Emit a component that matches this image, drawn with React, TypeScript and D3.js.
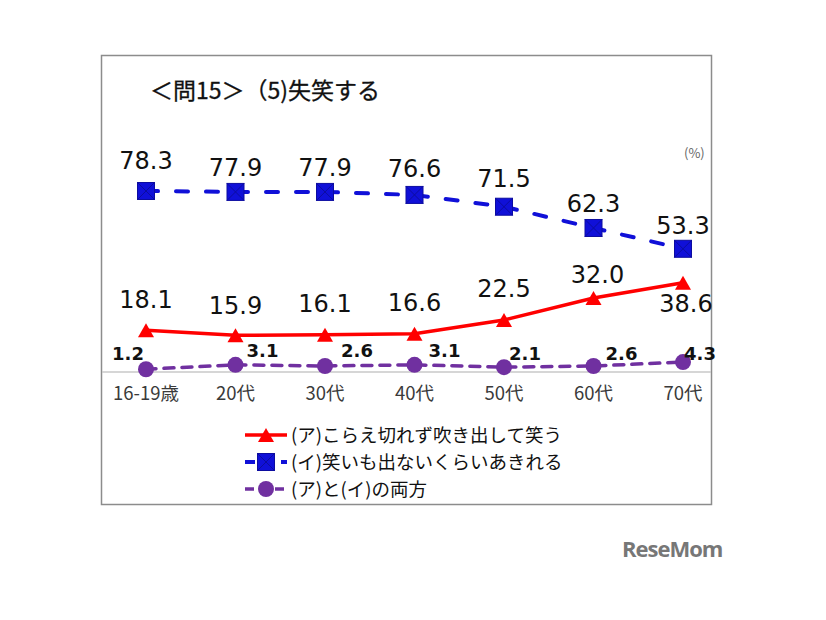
import React from "react";
import * as d3 from "d3";

const categories = ["16-19歳", "20代", "30代", "40代", "50代", "60代", "70代"];
const seriesA = [18.1, 15.9, 16.1, 16.6, 22.5, 32.0, 38.6];
const seriesI = [78.3, 77.9, 77.9, 76.6, 71.5, 62.3, 53.3];
const seriesBoth = [1.2, 3.1, 2.6, 3.1, 2.1, 2.6, 4.3];
const legendLabels = [
  "(ア)こらえ切れず吹き出して笑う",
  "(イ)笑いも出ないくらいあきれる",
  "(ア)と(イ)の両方",
];

const font = "'Noto Sans CJK JP', 'Noto Sans', sans-serif";
const numFont = "'DejaVu Sans', Verdana, sans-serif";

export default function App() {
  const x = d3.scalePoint<string>().domain(categories).range([146, 683]);
  const y = d3.scaleLinear().domain([0, 78.3]).range([372, 191]);

  const mk = (vals: number[]) =>
    d3.line<number>().x((_, i) => x(categories[i])!).y((v) => y(v))(vals)!;

  const tri = "M0,-7L8,7L-8,7Z";

  const square = (cx: number, cy: number, key: string | number) => (
    <g key={key}>
      <rect x={cx - 8.5} y={cy - 8.5} width={17} height={17} fill="#1010d8" stroke="#0c0ca0" strokeWidth={1} />
      <path d={`M${cx - 8.5},${cy - 8.5}L${cx + 8.5},${cy + 8.5}M${cx + 8.5},${cy - 8.5}L${cx - 8.5},${cy + 8.5}`} stroke="#0c0ca0" strokeWidth={1} />
    </g>
  );

  // label offsets (dx, baseline dy) relative to point
  const blueOff = [[0, -22], [0, -16], [0, -16], [0, -18], [0, -20], [0, -16], [0, -15]];
  const redOff = [[0, -22], [0, -21], [0, -23], [0, -23], [0, -23], [4, -15], [3, 29]];
  const purpOff = [[-18, -9], [27, -8], [32, -9], [30, -8], [21, -7], [28, -6], [17, -2]];

  const lgX = 245;

  return (
    <svg width={826} height={620} style={{ position: "absolute", left: 0, top: 0 }} fontFamily={font}>
      <rect x={0} y={0} width={826} height={620} fill="#fff" />
      <rect x={101.5} y={55.5} width={610} height={449} fill="#fff" stroke="#8c8c8c" strokeWidth={1.5} />
      <text x={150} y={99} fontSize={23} fill="#111" stroke="#111" strokeWidth={0.3}>＜問15＞（5)失笑する</text>
      <text x={684} y={158} fontSize={13} fill="#666">(%)</text>

      <line x1={102} x2={711} y1={y(0)} y2={y(0)} stroke="#c8c8c8" strokeWidth={1.5} />
      {categories.map((c) => (
        <text key={c} x={x(c)} y={400} fontSize={18.5} fill="#3a3a3a" textAnchor="middle">{c}</text>
      ))}

      {/* blue */}
      <path d={mk(seriesI)} fill="none" stroke="#1010d8" strokeWidth={4} strokeDasharray="12 18" strokeLinecap="round" />
      {seriesI.map((v, i) => square(x(categories[i])!, y(v), i))}
      {seriesI.map((v, i) => (
        <text key={i} x={x(categories[i])! + blueOff[i][0]} y={y(v) + blueOff[i][1]} fontSize={24} fontFamily={numFont} fill="#111" textAnchor="middle">{v.toFixed(1)}</text>
      ))}

      {/* red */}
      <path d={mk(seriesA)} fill="none" stroke="#ff0000" strokeWidth={3.5} />
      {seriesA.map((v, i) => (
        <path key={i} d={tri} transform={`translate(${x(categories[i])},${y(v)})`} fill="#ff0000" />
      ))}
      {seriesA.map((v, i) => (
        <text key={i} x={x(categories[i])! + redOff[i][0]} y={y(v) + redOff[i][1]} fontSize={24} fontFamily={numFont} fill="#111" textAnchor="middle">{v.toFixed(1)}</text>
      ))}

      {/* purple */}
      <path d={mk(seriesBoth)} fill="none" stroke="#7030a0" strokeWidth={3.5} strokeDasharray="10 8" strokeLinecap="round" />
      {seriesBoth.map((v, i) => (
        <circle key={i} cx={x(categories[i])} cy={y(v)} r={8} fill="#7030a0" />
      ))}
      {seriesBoth.map((v, i) => (
        <text key={i} x={x(categories[i])! + purpOff[i][0]} y={y(v) + purpOff[i][1]} fontSize={18} fontWeight="bold" fontFamily={numFont} fill="#111" textAnchor="middle">{v.toFixed(1)}</text>
      ))}

      {/* legend */}
      {legendLabels.map((l, i) => {
        const ly = 435 + i * 27;
        return (
          <g key={l}>
            {i === 0 && <line x1={lgX} x2={lgX + 42} y1={ly} y2={ly} stroke="#ff0000" strokeWidth={3.5} />}
            {i === 0 && <path d={tri} transform={`translate(${lgX + 21},${ly})`} fill="#ff0000" />}
            {i === 1 && <line x1={lgX} x2={lgX + 42} y1={ly} y2={ly} stroke="#1010d8" strokeWidth={4} strokeDasharray="10 8" />}
            {i === 1 && square(lgX + 21, ly, "lg")}
            {i === 2 && <line x1={lgX} x2={lgX + 42} y1={ly} y2={ly} stroke="#7030a0" strokeWidth={3.5} strokeDasharray="9 6" />}
            {i === 2 && <circle cx={lgX + 21} cy={ly} r={8} fill="#7030a0" />}
            <text x={lgX + 46} y={ly + 6.5} fontSize={18.5} fill="#111">{l}</text>
          </g>
        );
      })}

      <text x={622} y={557} fontSize={22} fontWeight="bold" fill="#777" fontFamily="'Open Sans', sans-serif" letterSpacing={-1}>ReseMom</text>
    </svg>
  );
}
